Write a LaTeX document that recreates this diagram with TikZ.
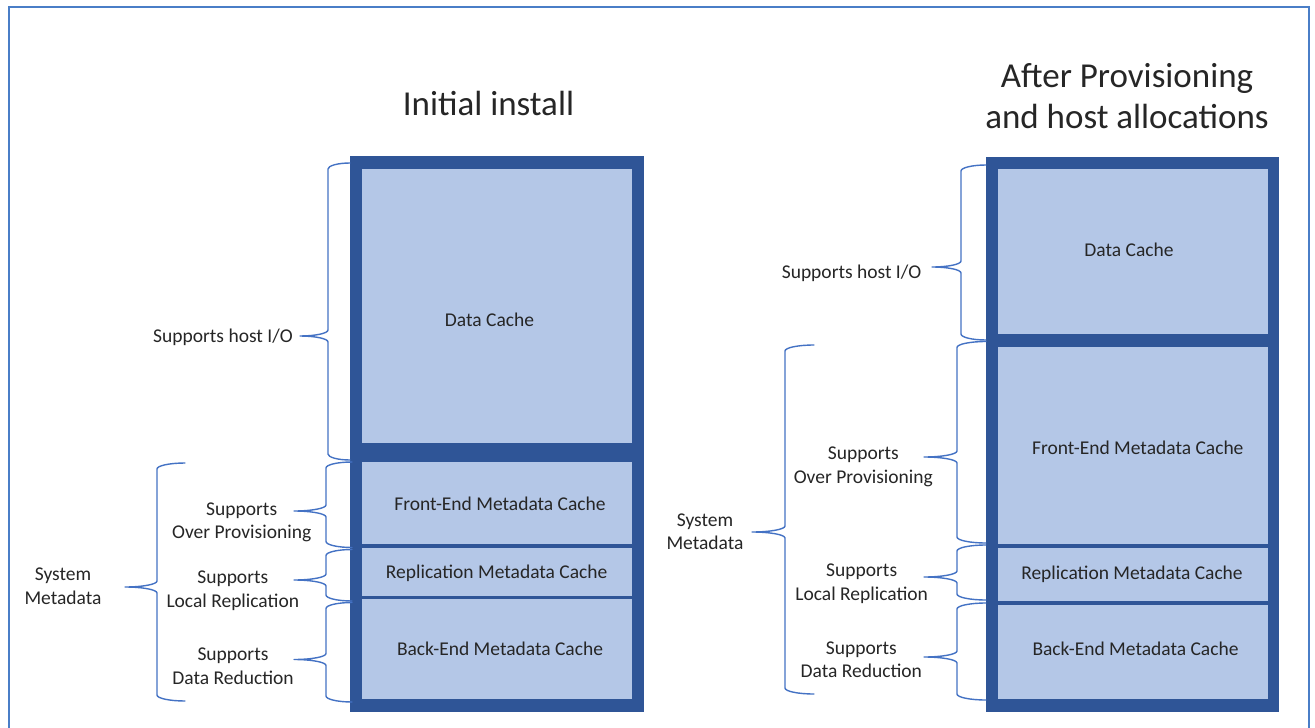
\documentclass[tikz,border=0pt]{standalone}
\usepackage{fontspec}
\setmainfont{Carlito}
\definecolor{framecol}{HTML}{2F5597}
\definecolor{cellcol}{HTML}{B4C7E7}
\definecolor{bracecol}{HTML}{4472C4}
\definecolor{edgecol}{HTML}{4A7EC7}
\definecolor{inkcol}{HTML}{262626}

% Curly brace opening to the right: tip x, spine x, nub x, top y, nub y, bottom y
\newcommand\sidebrace[6]{%
  \draw[bracestroke] (#1,#4)
    .. controls ({#1-0.55*(#1-#2)},#4) and (#2,{#4+6-0.55*6}) .. (#2,{#4+6})
    -- (#2,{#5-6})
    .. controls (#2,{#5-6+0.55*6}) and ({#3+0.55*(#2-#3)},#5) .. (#3,#5)
    .. controls ({#3+0.55*(#2-#3)},#5) and (#2,{#5+6-0.55*6}) .. (#2,{#5+6})
    -- (#2,{#6-6})
    .. controls (#2,{#6-6+0.55*6}) and ({#1-0.55*(#1-#2)},#6) .. (#1,#6);}

\begin{document}
\begin{tikzpicture}[x=1pt,y=-1pt,
  stackframe/.style={fill=framecol, draw=none, inner sep=0pt, minimum width=294, minimum height=556},
  cell/.style={fill=cellcol, draw=none, inner sep=0pt, minimum width=270},
  celltext/.style={text=inkcol, font=\fontsize{19.5}{23.5}\selectfont, inner sep=0pt, text depth=0pt},
  sidetext/.style={text=inkcol, font=\fontsize{19.5}{23.5}\selectfont, inner sep=0pt, align=center, text depth=0pt},
  titletext/.style={text=inkcol, font=\fontsize{35}{41}\selectfont, inner sep=0pt, align=center, text depth=0pt},
  bracestroke/.style={draw=bracecol, line width=1.4pt, line cap=round, line join=round}]

\useasboundingbox (0,0) rectangle (1315,728);
\fill[white] (0,0) rectangle (1315,728);

% outer frame, open at the bottom
\draw[edgecol, line width=2.4pt] (9,730) -- (9,7) -- (1309,7) -- (1309,730);

% ---------- Initial install ----------
\node[titletext] (ltitle) at (488.5,103) {Initial install};
\node[stackframe] (lstack) at (497,434) {};
\node[cell, minimum height=274] (ldata) at (497,306.3) {};
\node[cell, minimum height=82]  (lfront) at (497,503.3) {};
\node[cell, minimum height=47.4] (lrepl) at (497,572) {};
\node[cell, minimum height=100] (lback) at (497,649.3) {};
\node[celltext] (ldatat) at (489.5,320) {Data Cache};
\node[celltext] (lfrontt) at (500,504) {Front-End Metadata Cache};
\node[celltext] (lreplt) at (496.7,572) {Replication Metadata Cache};
\node[celltext] (lbackt) at (500,649) {Back-End Metadata Cache};

\node[sidetext] (lhost) at (223,336) {Supports host I/O};
\node[sidetext] (lover) at (241.7,520.5) {Supports\\Over Provisioning};
\node[sidetext] (llocal) at (232.8,589) {Supports\\Local Replication};
\node[sidetext] (lred) at (233,666) {Supports\\Data Reduction};
\node[sidetext] (lsys) at (63,586) {System\\Metadata};

\sidebrace{350}{328}{300}{163}{336}{460}
\sidebrace{352}{326}{294}{462}{511}{547.5}
\sidebrace{352}{326}{294}{549.5}{580}{601}
\sidebrace{352}{326}{294}{602.5}{659.5}{702}
\sidebrace{185}{157}{125}{463}{587}{701}

% ---------- After provisioning ----------
\node[titletext] (rtitle) at (1127,96) {After Provisioning\\and host allocations};
\node[stackframe, minimum width=293.3, minimum height=555] (rstack) at (1132.3,434.2) {};
\node[cell, minimum height=164.4] (rdata) at (1133,251.5) {};
\node[cell, minimum height=197]   (rfront) at (1133,445.8) {};
\node[cell, minimum height=52.7]  (rrepl) at (1133,574.7) {};
\node[cell, minimum height=94.3]  (rback) at (1133,652.2) {};
\node[celltext] (rdatat) at (1129,249.3) {Data Cache};
\node[celltext] (rfrontt) at (1137.8,447.7) {Front-End Metadata Cache};
\node[celltext] (rreplt) at (1132,572.3) {Replication Metadata Cache};
\node[celltext] (rbackt) at (1135.5,649) {Back-End Metadata Cache};

\node[sidetext] (rhost) at (851.6,271.7) {Supports host I/O};
\node[sidetext] (rover) at (863.3,465.3) {Supports\\Over Provisioning};
\node[sidetext] (rlocal) at (861.7,582.3) {Supports\\Local Replication};
\node[sidetext] (rred) at (861.3,659.5) {Supports\\Data Reduction};
\node[sidetext] (rsys) at (705,531.7) {System\\Metadata};

\sidebrace{986}{961}{932}{165}{267}{340}
\sidebrace{986}{957}{924}{341.5}{457}{543}
\sidebrace{986}{957}{924}{545}{577}{600}
\sidebrace{986}{957}{924}{603}{657}{700}
\sidebrace{814}{785}{752}{345}{532}{694}

\end{tikzpicture}
\end{document}
